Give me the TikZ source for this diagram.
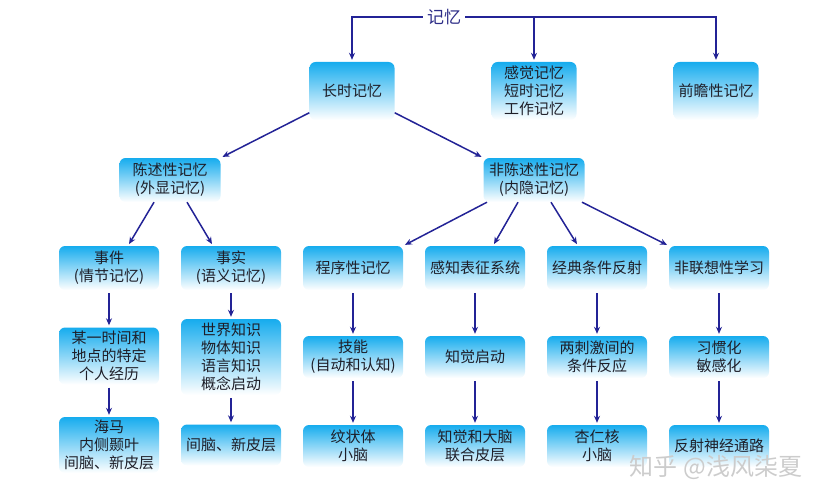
\documentclass[tikz,border=0pt]{standalone}
\usepackage{fontspec}
\setmainfont{Noto Sans CJK SC}
\usetikzlibrary{arrows.meta,positioning,calc}

\definecolor{boxcyan}{RGB}{22,172,238}
\definecolor{arrowblue}{RGB}{35,35,150}
\definecolor{textdark}{RGB}{30,30,40}
\definecolor{rootblue}{RGB}{45,45,135}

\tikzset{
  memo/.style={rounded corners=6pt, top color=boxcyan, bottom color=white,
    minimum width=100pt, minimum height=44pt, inner sep=2pt, align=center,
    text=textdark, font=\fontsize{15}{18}\selectfont},
  link/.style={draw=arrowblue, line width=1.5pt,
    -{Stealth[length=7pt,width=6pt]}, shorten >=2pt}
}

\begin{document}
\begin{tikzpicture}[x=1pt, y=-1pt, node distance=21.6pt]
  \useasboundingbox (0,0) rectangle (826,500);

  % nodes
  \node[text=rootblue, inner sep=4pt, font=\fontsize{17}{17}\selectfont] (mem) at (444,17) {记忆};

  \node[memo, minimum width=85pt, minimum height=58pt] (longterm) at (352,91) {长时记忆};
  \node[memo, minimum width=85pt, minimum height=58pt] (shortterm) at (534,91) {感觉记忆\\短时记忆\\工作记忆};
  \node[memo, minimum width=85pt, minimum height=58pt] (prospect) at (716,91) {前瞻性记忆};

  \node[memo, minimum width=101pt] (explicit) at (170,180) {陈述性记忆\\(外显记忆)};
  \node[memo, minimum width=101pt] (implicit) at (534,180) {非陈述性记忆\\(内隐记忆)};

  \node[memo] (episode) at (109,268) {事件\\(情节记忆)};
  \node[memo, right=of episode] (semantic) {事实\\(语义记忆)};
  \node[memo, right=of semantic] (procedure) {程序性记忆};
  \node[memo, right=of procedure] (perceptual) {感知表征系统};
  \node[memo, right=of perceptual] (classic) {经典条件反射};
  \node[memo, right=of classic] (nonassoc) {非联想性学习};

  \node[memo, minimum height=57pt] (episode_d) at (episode |- 0,356) {某一时间和\\地点的特定\\个人经历};
  \node[memo, minimum height=76pt] (semantic_d) at (semantic |- 0,357) {世界知识\\物体知识\\语言知识\\概念启动};
  \node[memo, minimum height=42pt] (procedure_d) at (procedure |- 0,357) {技能\\(自动和认知)};
  \node[memo, minimum height=42pt] (perceptual_d) at (perceptual |- 0,357) {知觉启动};
  \node[memo, minimum height=42pt] (classic_d) at (classic |- 0,357) {两刺激间的\\条件反应};
  \node[memo, minimum height=42pt] (nonassoc_d) at (nonassoc |- 0,357) {习惯化\\敏感化};

  \node[memo, minimum height=56pt] (episode_b) at (episode |- 0,445) {海马\\内侧颞叶\\间脑、新皮层};
  \node[memo, minimum height=41pt] (semantic_b) at (semantic |- 0,445) {间脑、新皮层};
  \node[memo, minimum height=42pt] (procedure_b) at (procedure |- 0,446) {纹状体\\小脑};
  \node[memo, minimum height=42pt] (perceptual_b) at (perceptual |- 0,446) {知觉和大脑\\联合皮层};
  \node[memo, minimum height=42pt] (classic_b) at (classic |- 0,446) {杏仁核\\小脑};
  \node[memo, minimum height=42pt] (nonassoc_b) at (nonassoc |- 0,446) {反射神经通路};

  \node[text=gray!40, font=\fontsize{24}{24}\selectfont] (mark) at (716,467) {知乎 @浅风柒夏};

  % edges
  \draw[link] (mem.west) -| (longterm.north);
  \draw[link] (mem.east) -| (prospect.north);
  \draw[link] (mem.east -| shortterm.north) -- (shortterm.north);

  \draw[link] (longterm.207) -- (explicit.north east);
  \draw[link] (longterm.333) -- (implicit.north west);

  \draw[link] ([xshift=-16pt]explicit.south) -- ([xshift=19pt]episode.north);
  \draw[link] ([xshift=17pt]explicit.south) -- ([xshift=-18pt]semantic.north);
  \draw[link] ([xshift=-47pt]implicit.south) -- (procedure.north east);
  \draw[link] ([xshift=-16pt]implicit.south) -- ([xshift=18pt]perceptual.north);
  \draw[link] ([xshift=17pt]implicit.south) -- ([xshift=-19pt]classic.north);
  \draw[link] ([xshift=48pt]implicit.south) -- (nonassoc.north west);

  \draw[link, shorten <=3pt] (episode) -- (episode_d);
  \draw[link, shorten <=3pt] (semantic) -- (semantic_d);
  \draw[link, shorten <=3pt] (procedure) -- (procedure_d);
  \draw[link, shorten <=3pt] (perceptual) -- (perceptual_d);
  \draw[link, shorten <=3pt] (classic) -- (classic_d);
  \draw[link, shorten <=3pt] (nonassoc) -- (nonassoc_d);

  \draw[link, shorten <=3pt] (episode_d) -- (episode_b);
  \draw[link, shorten <=3pt] (semantic_d) -- (semantic_b);
  \draw[link, shorten <=3pt] (procedure_d) -- (procedure_b);
  \draw[link, shorten <=3pt] (perceptual_d) -- (perceptual_b);
  \draw[link, shorten <=3pt] (classic_d) -- (classic_b);
  \draw[link, shorten <=3pt] (nonassoc_d) -- (nonassoc_b);
\end{tikzpicture}
\end{document}
